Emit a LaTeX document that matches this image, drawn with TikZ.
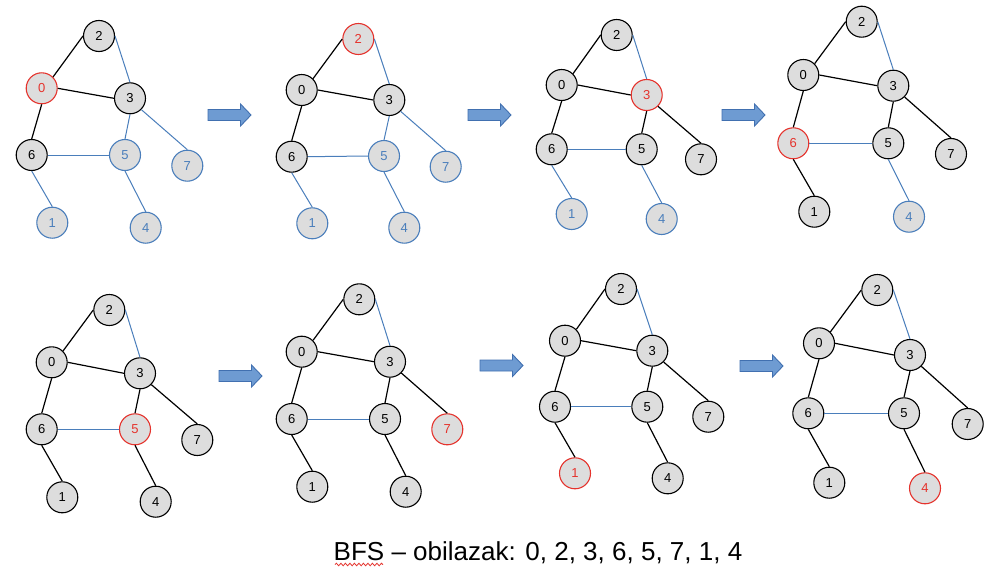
\documentclass[tikz,border=0pt]{standalone}
\usepackage{fontspec}
\setmainfont{Liberation Sans}
\usetikzlibrary{decorations.pathmorphing}

\definecolor{nodefill}{HTML}{DDDDDD}
\definecolor{bfsblue}{HTML}{4A7EBB}
\definecolor{bfsred}{HTML}{E5332D}
\definecolor{arrowfill}{HTML}{6E9BD2}
\definecolor{arrowline}{HTML}{4170B0}

\tikzset{
  vert/.style={circle, line width=1.1pt, fill=nodefill, minimum size=31pt,
    inner sep=0pt, font=\fontsize{13}{13}\selectfont},
  seen/.style={vert, draw=black, text=black},
  fresh/.style={vert, draw=bfsblue, text=bfsblue},
  curr/.style={vert, draw=bfsred, text=bfsred},
  doneedge/.style={draw=black, line width=1.2pt},
  todoedge/.style={draw=bfsblue, line width=1pt},
  blockarrow/.pic={
    \draw[fill=arrowfill, draw=arrowline, line width=0.9pt, line join=miter]
      (0,-5.5) -- (32.5,-5.5) -- (32.5,-11) -- (43,0) -- (32.5,11)
      -- (32.5,5.5) -- (0,5.5) -- cycle;
  }
}

% edges of one snapshot: prefix, then styles of 3-5, 3-7, 6-1, 5-4
\newcommand\bfsedges[5]{%
  \draw[doneedge] (#1-0.north east) -- (#1-2.west);
  \draw[doneedge] (#1-0.east) -- (#1-3.west);
  \draw[doneedge] (#1-0.south) -- (#1-6.north);
  \draw[todoedge] (#1-2.east) -- (#1-3.north);
  \draw[todoedge] (#1-6.east) -- (#1-5.west);
  \draw[#2] (#1-3.south) -- (#1-5.north);
  \draw[#3] (#1-3.south east) -- (#1-7.north);
  \draw[#4] (#1-6.south) -- (#1-1.north);
  \draw[#5] (#1-5.south) -- (#1-4.north);
}

\begin{document}
\begin{tikzpicture}[x=1pt, y=-1pt]
\fill[white] (0,0) rectangle (995,586);
\useasboundingbox (0,0) rectangle (995,586);

% snapshot 1: visiting 0
\node[seen]  (a-2) at (99,36) {2};
\node[curr]  (a-0) at (41.7,88.3) {0};
\node[seen]  (a-3) at (130,98.3) {3};
\node[seen]  (a-6) at (31.7,155) {6};
\node[fresh] (a-5) at (125,155) {5};
\node[fresh] (a-7) at (187.3,165.7) {7};
\node[fresh] (a-1) at (52.3,222.7) {1};
\node[fresh] (a-4) at (145.7,227.7) {4};
\bfsedges{a}{todoedge}{todoedge}{todoedge}{todoedge}

% snapshot 2: visiting 2
\node[curr]  (b-2) at (358.3,39) {2};
\node[seen]  (b-0) at (301.7,90) {0};
\node[seen]  (b-3) at (389.3,100) {3};
\node[seen]  (b-6) at (291.7,156.7) {6};
\node[fresh] (b-5) at (384,156) {5};
\node[fresh] (b-7) at (445.7,166.7) {7};
\node[fresh] (b-1) at (312.3,223.3) {1};
\node[fresh] (b-4) at (404.3,227.7) {4};
\bfsedges{b}{todoedge}{todoedge}{todoedge}{todoedge}

% snapshot 3: visiting 3
\node[seen]  (c-2) at (616.7,35) {2};
\node[seen]  (c-0) at (561.7,85) {0};
\node[curr]  (c-3) at (646.7,95) {3};
\node[seen]  (c-6) at (551.7,149.3) {6};
\node[seen]  (c-5) at (641.7,149.3) {5};
\node[seen]  (c-7) at (701,159.3) {7};
\node[fresh] (c-1) at (571.7,214) {1};
\node[fresh] (c-4) at (661.7,219) {4};
\bfsedges{c}{doneedge}{doneedge}{todoedge}{todoedge}

% snapshot 4: visiting 6
\node[seen]  (d-2) at (861.7,21.7) {2};
\node[seen]  (d-0) at (803.3,75) {0};
\node[seen]  (d-3) at (893.3,85.7) {3};
\node[curr]  (d-6) at (793.3,143.3) {6};
\node[seen]  (d-5) at (888.3,143.3) {5};
\node[seen]  (d-7) at (951,154) {7};
\node[seen]  (d-1) at (814.3,211.7) {1};
\node[fresh] (d-4) at (909,216.7) {4};
\bfsedges{d}{doneedge}{doneedge}{doneedge}{todoedge}

% snapshot 5: visiting 5
\node[seen] (e-2) at (109.3,310) {2};
\node[seen] (e-0) at (51.7,362.3) {0};
\node[seen] (e-3) at (140,373.3) {3};
\node[seen] (e-6) at (41.7,429.3) {6};
\node[curr] (e-5) at (135,429.3) {5};
\node[seen] (e-7) at (197.3,440) {7};
\node[seen] (e-1) at (62.3,497.3) {1};
\node[seen] (e-4) at (155.7,501.7) {4};
\bfsedges{e}{doneedge}{doneedge}{doneedge}{doneedge}

% snapshot 6: visiting 7
\node[seen] (f-2) at (359.3,299.3) {2};
\node[seen] (f-0) at (301.7,351.7) {0};
\node[seen] (f-3) at (390,361.7) {3};
\node[seen] (f-6) at (291.7,419) {6};
\node[seen] (f-5) at (385,419) {5};
\node[curr] (f-7) at (447.3,429.3) {7};
\node[seen] (f-1) at (312.3,486.7) {1};
\node[seen] (f-4) at (405.7,491.7) {4};
\bfsedges{f}{doneedge}{doneedge}{doneedge}{doneedge}

% snapshot 7: visiting 1
\node[seen] (g-2) at (621,289) {2};
\node[seen] (g-0) at (565,340.7) {0};
\node[seen] (g-3) at (652.3,350.7) {3};
\node[seen] (g-6) at (555,406.7) {6};
\node[seen] (g-5) at (647.3,406.7) {5};
\node[seen] (g-7) at (708.3,416.7) {7};
\node[curr] (g-1) at (575,473.3) {1};
\node[seen] (g-4) at (667.7,478.3) {4};
\bfsedges{g}{doneedge}{doneedge}{doneedge}{doneedge}

% snapshot 8: visiting 4
\node[seen] (h-2) at (877.3,290) {2};
\node[seen] (h-0) at (819,343.3) {0};
\node[seen] (h-3) at (910,355) {3};
\node[seen] (h-6) at (808.3,413.3) {6};
\node[seen] (h-5) at (904,413.3) {5};
\node[seen] (h-7) at (967.7,424) {7};
\node[seen] (h-1) at (829.3,482.7) {1};
\node[curr] (h-4) at (925,488.3) {4};
\bfsedges{h}{doneedge}{doneedge}{doneedge}{doneedge}

% step arrows between snapshots
\pic at (208,115) {blockarrow};
\pic at (468,115) {blockarrow};
\pic at (722,115) {blockarrow};
\pic at (219,376) {blockarrow};
\pic at (480,365.5) {blockarrow};
\pic at (740,366) {blockarrow};

% caption with the visiting order
\node[anchor=base, inner sep=0pt, font=\fontsize{26}{26}\selectfont]
  (caption) at (538,560) {BFS -- obilazak: 0, 2, 3, 6, 5, 7, 1, 4};
\coordinate (wavyA) at (335,564.5);
\coordinate (wavyB) at (383,564.5);
\draw[bfsred, line width=0.8pt,
  decorate, decoration={snake, amplitude=1.3pt, segment length=4.5pt}]
  (wavyA) -- (wavyB);
\end{tikzpicture}
\end{document}
